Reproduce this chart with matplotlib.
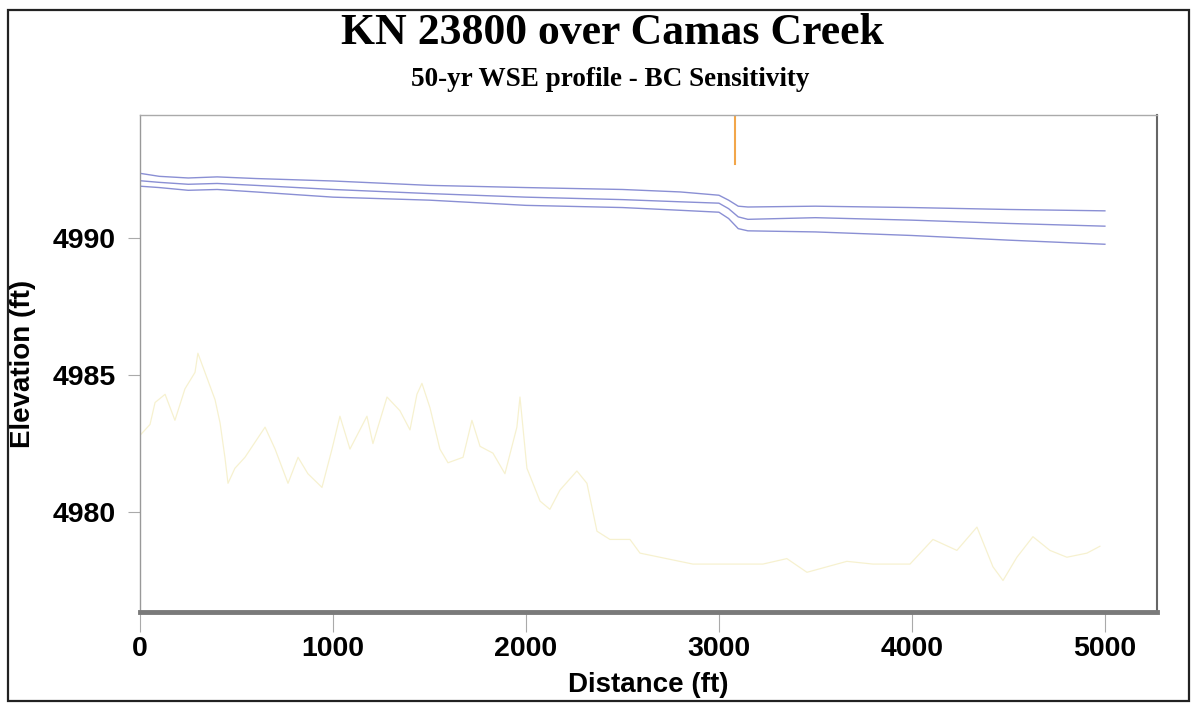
import matplotlib
matplotlib.use("Agg")
import matplotlib.pyplot as plt
from matplotlib.patches import Rectangle

# water surface profiles (three boundary conditions)
wse_x = [0, 100, 250, 400, 600, 1000, 1500, 2000, 2500, 2800, 3000, 3050, 3100, 3150, 3500, 4000, 4500, 5000]
wse_high = [4992.37, 4992.26, 4992.20, 4992.24, 4992.18, 4992.09, 4991.93, 4991.85, 4991.78, 4991.69,
            4991.57, 4991.39, 4991.17, 4991.14, 4991.17, 4991.12, 4991.05, 4991.00]
wse_mid = [4992.10, 4992.04, 4991.97, 4992.00, 4991.93, 4991.78, 4991.63, 4991.50, 4991.41, 4991.33,
           4991.28, 4991.08, 4990.78, 4990.69, 4990.75, 4990.66, 4990.54, 4990.44]
wse_low = [4991.90, 4991.85, 4991.75, 4991.78, 4991.69, 4991.50, 4991.39, 4991.20, 4991.12, 4991.02,
           4990.95, 4990.72, 4990.35, 4990.27, 4990.23, 4990.10, 4989.93, 4989.78]

# channel invert
ground_x = [0, 52, 78, 130, 181, 233, 285, 300, 389, 415, 440, 456, 492, 544, 648, 700, 767, 819, 870, 943,
            995, 1036, 1088, 1176, 1207, 1280, 1347, 1399, 1435, 1461, 1503, 1554, 1596, 1674, 1720, 1762,
            1829, 1891, 1953, 1969, 2005, 2073, 2124, 2176, 2264, 2316, 2368, 2435, 2539, 2591, 2865, 2990,
            3228, 3352, 3456, 3663, 3798, 3990, 4109, 4233, 4337, 4420, 4472, 4544, 4627, 4715, 4803, 4907, 4974]
ground_z = [4982.8, 4983.2, 4984.0, 4984.3, 4983.35, 4984.5, 4985.1, 4985.8, 4984.1, 4983.25, 4982.0, 4981.05,
            4981.6, 4982.0, 4983.1, 4982.3, 4981.05, 4982.0, 4981.4, 4980.9, 4982.3, 4983.5, 4982.3, 4983.5,
            4982.5, 4984.2, 4983.7, 4983.0, 4984.3, 4984.7, 4983.8, 4982.3, 4981.8, 4982.0, 4983.35, 4982.4,
            4982.15, 4981.4, 4983.1, 4984.2, 4981.6, 4980.4, 4980.1, 4980.8, 4981.5, 4981.05, 4979.3, 4979.0,
            4979.0, 4978.5, 4978.1, 4978.1, 4978.1, 4978.3, 4977.8, 4978.2, 4978.1, 4978.1, 4979.0, 4978.6,
            4979.45, 4978.0, 4977.5, 4978.35, 4979.1, 4978.6, 4978.35, 4978.5, 4978.75]

bridge_x = 3083
bridge_low = 4992.7

xticks = [0, 1000, 2000, 3000, 4000, 5000]
yticks = [4980, 4985, 4990]

fig = plt.figure(figsize=(11.91, 7.04), dpi=100)
fig.patch.set_facecolor("white")

# outer frame
fig.patches.append(Rectangle((8 / 1191, 3 / 704), 1181 / 1191, 691 / 704, transform=fig.transFigure,
                             fill=False, edgecolor="#222222", linewidth=1.6))

ax = fig.add_axes([140 / 1191, 1 - 612 / 704, 1017 / 1191, 497 / 704])

ax.plot(ground_x, ground_z, color="#f4edc0", linewidth=0.9, alpha=0.75)
for z in (wse_high, wse_mid, wse_low):
    ax.plot(wse_x, z, color="#8a8fd4", linewidth=1.0)
ax.plot([bridge_x, bridge_x], [bridge_low, 4995], color="#f2a64a", linewidth=1.5)

ax.set_xlim(0, 5270)
ax.set_ylim(4976.35, 4994.5)
ax.set_xticks(xticks)
ax.set_yticks(yticks)

tick_font = dict(family="Liberation Sans", weight="bold", size=20.5)
ax.set_xticklabels([str(t) for t in xticks], **tick_font)
ax.set_yticklabels([str(t) for t in yticks], **tick_font)
ax.tick_params(axis="x", length=14.5, width=0.8, color="#aaaaaa", pad=3)
ax.tick_params(axis="y", length=8.5, width=0.8, color="#aaaaaa", pad=9)

ax.spines["left"].set_color("#999999")
ax.spines["left"].set_linewidth(1.0)
ax.spines["top"].set_color("#aaaaaa")
ax.spines["top"].set_linewidth(1.0)
ax.spines["right"].set_color("#666666")
ax.spines["right"].set_linewidth(1.5)
ax.spines["bottom"].set_color("#7a7a7a")
ax.spines["bottom"].set_linewidth(3.5)

ax.set_xlabel("Distance (ft)", family="Liberation Sans", weight="bold", size=20, labelpad=7)
ax.set_ylabel("Elevation (ft)", family="Liberation Sans", weight="bold", size=20, labelpad=12)

fig.text(612 / 1191, 1 - 33 / 704, "KN 23800 over Camas Creek", ha="center", va="center",
         family="Liberation Serif", weight="bold", size=31.5)
fig.text(610 / 1191, 1 - 80 / 704, "50-yr WSE profile - BC Sensitivity", ha="center", va="center",
         family="Liberation Serif", weight="bold", size=19.5)

fig.savefig("out.png", dpi=100)
